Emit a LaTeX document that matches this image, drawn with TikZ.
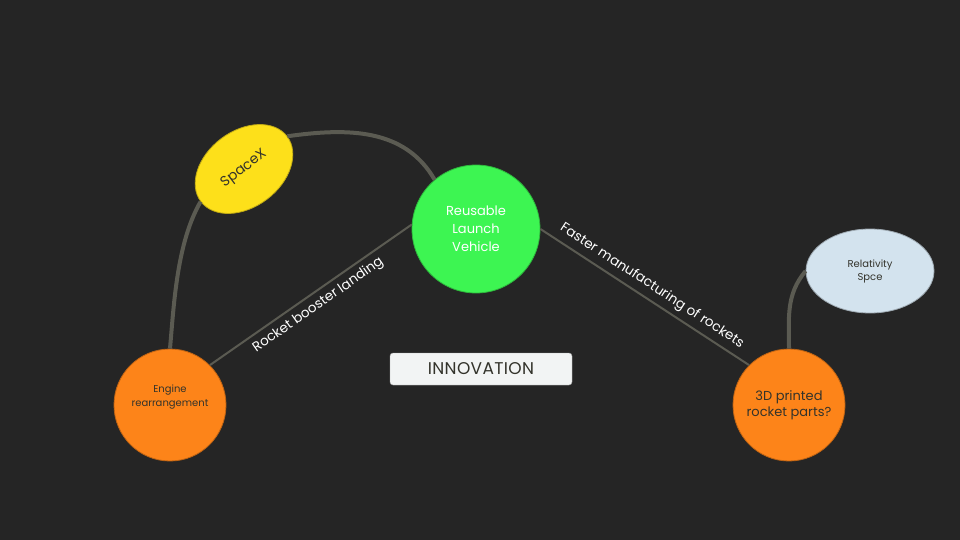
\documentclass[tikz,border=0pt]{standalone}
\usepackage{fontspec}
\setmainfont{Poppins}
\usetikzlibrary{shapes.geometric}

\definecolor{bgdark}{HTML}{252525}
\definecolor{ideayellow}{HTML}{FDE01A}
\definecolor{ideagreen}{HTML}{3DF552}
\definecolor{ideaorange}{HTML}{FD8419}
\definecolor{ideablue}{HTML}{D3E3EE}
\definecolor{boxwhite}{HTML}{F2F4F4}
\definecolor{linkgray}{HTML}{5B5B52}
\definecolor{inkdark}{HTML}{33332B}

\begin{document}
\begin{tikzpicture}[x=1pt, y=1pt,
  bubble/.style={circle, inner sep=0pt, align=center, fill=#1, draw=#1!75!black, line width=0.8pt},
  blob/.style={ellipse, inner sep=0pt, align=center, fill=#1, draw=#1!75!black, line width=0.8pt},
  thicklink/.style={draw=linkgray, line width=4pt},
  thinlink/.style={draw=linkgray, line width=2pt},
  linklabel/.style={text=white, font=\fontsize{13.5}{15}\selectfont, sloped, midway, inner sep=5pt}]

  % background and page size
  \fill[bgdark] (0,0) rectangle (960,-540);
  \useasboundingbox (0,0) rectangle (960,-540);

  \node[bubble=ideagreen, minimum size=128, text=white, font=\fontsize{13}{18}\selectfont] (rlv) at (476,-229) {Reusable\\Launch\\Vehicle};

  \node[blob=ideayellow, minimum width=108, minimum height=76, rotate=37, text=inkdark, font=\fontsize{14}{16}\selectfont] (spx) at (244,-169) {SpaceX};

  \node[bubble=ideaorange, minimum size=112, text=inkdark, text depth=18pt, font=\fontsize{10}{14}\selectfont] (eng) at (170,-405) {Engine\\rearrangement};

  \node[bubble=ideaorange, minimum size=112, text=inkdark, font=\fontsize{13}{16}\selectfont] (prt) at (789,-405) {3D printed\\rocket parts?};

  \node[blob=ideablue, minimum width=128, minimum height=84, text=inkdark, font=\fontsize{10}{13}\selectfont] (rel) at (870,-271) {Relativity\\Spce};

  \node[rectangle, rounded corners=3pt, fill=boxwhite, draw=gray!70, minimum width=182, minimum height=32, text=inkdark, font=\fontsize{17}{19}\selectfont\addfontfeature{LetterSpace=2}] (inno) at (481,-369) {INNOVATION};

  % links
  \draw[thicklink] (spx.east) to[out=8, in=120] (rlv.130);
  \draw[thicklink] (spx.west) to[out=240, in=85, looseness=0.8] (eng.north);
  \draw[thicklink] (prt.north) to[out=90, in=230] (rel.west);

  \draw[thinlink] (rlv.176) -- (eng.north east) node[linklabel, below] {Rocket booster landing};
  \draw[thinlink] (rlv.east) -- (prt.north west) node[linklabel, above] {Faster manufacturing of rockets};

\end{tikzpicture}
\end{document}
